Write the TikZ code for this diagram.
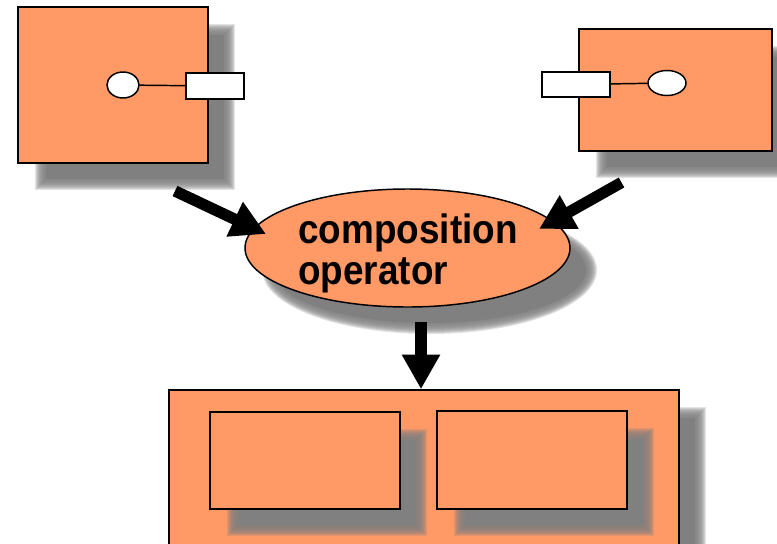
\documentclass[tikz,border=0pt]{standalone}
\usepackage{fontspec}
\newfontfamily\opfont{Liberation Sans}[FakeStretch=0.9]
\usetikzlibrary{arrows.meta,fit,shapes.geometric}
\newlength\px
\setlength\px{0.75pt}
\definecolor{boxfill}{RGB}{255,153,102}
\definecolor{shadowgray}{RGB}{128,128,128}

% soft drop shadow of a rectangle given by its corners (x1,y1,x2,y2)
\newcommand\rectshadow[4]{%
  \fill[shadowgray] ({#1+28},{#2+28}) rectangle ({#3+16},{#4+16});
  \foreach \ds in {-5,...,5}{%
    \fill[shadowgray,fill opacity=0.22]
      ({#1+22-\ds},{#2+22-\ds}) rectangle ({#3+22+\ds},{#4+22+\ds});
  }%
}
% soft drop shadow of an ellipse given by centre and radii (cx,cy,rx,ry)
\newcommand\ellshadow[4]{%
  \fill[shadowgray] ({#1+22},{#2+22}) ellipse [x radius={#3-6}, y radius={#4-6}];
  \foreach \ds in {-5,...,5}{%
    \fill[shadowgray,fill opacity=0.22]
      ({#1+22},{#2+22}) ellipse [x radius={#3+\ds}, y radius={#4+\ds}];
  }%
}

\begin{document}
\begin{tikzpicture}[x=0.75pt,y=-0.75pt,
  block/.style={draw=black, line width=1.1pt, fill=boxfill, inner sep=0pt},
  plug/.style={draw=black, line width=1.1pt, fill=white, inner sep=0pt},
  socket/.style={ellipse, draw=black, line width=1.1pt, fill=white, inner sep=0pt},
  wire/.style={line width=1.1pt},
  opnode/.style={ellipse, draw=black, line width=1.1pt, fill=boxfill, inner sep=0pt,
    minimum width=325\px, minimum height=118\px},
  optext/.style={font=\opfont\bfseries\fontsize{30.75}{30.75}\selectfont,
    align=left, inner sep=0pt},
  fatarrow/.style={line width=8.5pt, -{Triangle[length=26pt,width=27pt]}}
]
\useasboundingbox (0,0) rectangle (777,543);
\clip (0,0) rectangle (777,543);

% upper left component
\rectshadow{18}{7}{208}{163}
\node[block, fit={(18,7) (208,163)}] (A) {};
\node[socket, minimum width=32\px, minimum height=26\px] (Asock) at (123,85) {};
\node[plug, fit={(186,73) (244,99)}] (Aplug) {};
\draw[wire] (Asock) -- (Aplug);

% upper right component
\rectshadow{579}{29}{772}{151}
\node[block, fit={(579,29) (772,151)}] (B) {};
\node[plug, fit={(542,72) (610,97)}] (Bplug) {};
\node[socket, minimum width=38\px, minimum height=25\px] (Bsock) at (667,83) {};
\draw[wire] (Bplug) -- (Bsock);

% composition operator
\ellshadow{407.5}{248}{162.5}{59}
\node[opnode] (C) at (407.5,248) {};
\node[optext] (Ctext) at (408,253) {composition\\operator};

% composed result
\rectshadow{169}{390}{679}{560}
\node[block, fit={(169,390) (679,560)}] (D) {};
\rectshadow{210}{412}{400}{509}
\node[block, fit={(210,412) (400,509)}] (D1) {};
\rectshadow{437}{411}{627}{509}
\node[block, fit={(437,411) (627,509)}] (D2) {};

% arrows
\coordinate (lt) at (175,191);
\coordinate (lh) at (266,234);
\coordinate (rt) at (621.5,182.5);
\coordinate (rh) at (539,229);
\coordinate (dt) at (421,322);
\draw[fatarrow] (lt) -- (lh);
\draw[fatarrow] (rt) -- (rh);
\draw[fatarrow] (dt) -- (dt |- D.north);
\end{tikzpicture}
\end{document}
